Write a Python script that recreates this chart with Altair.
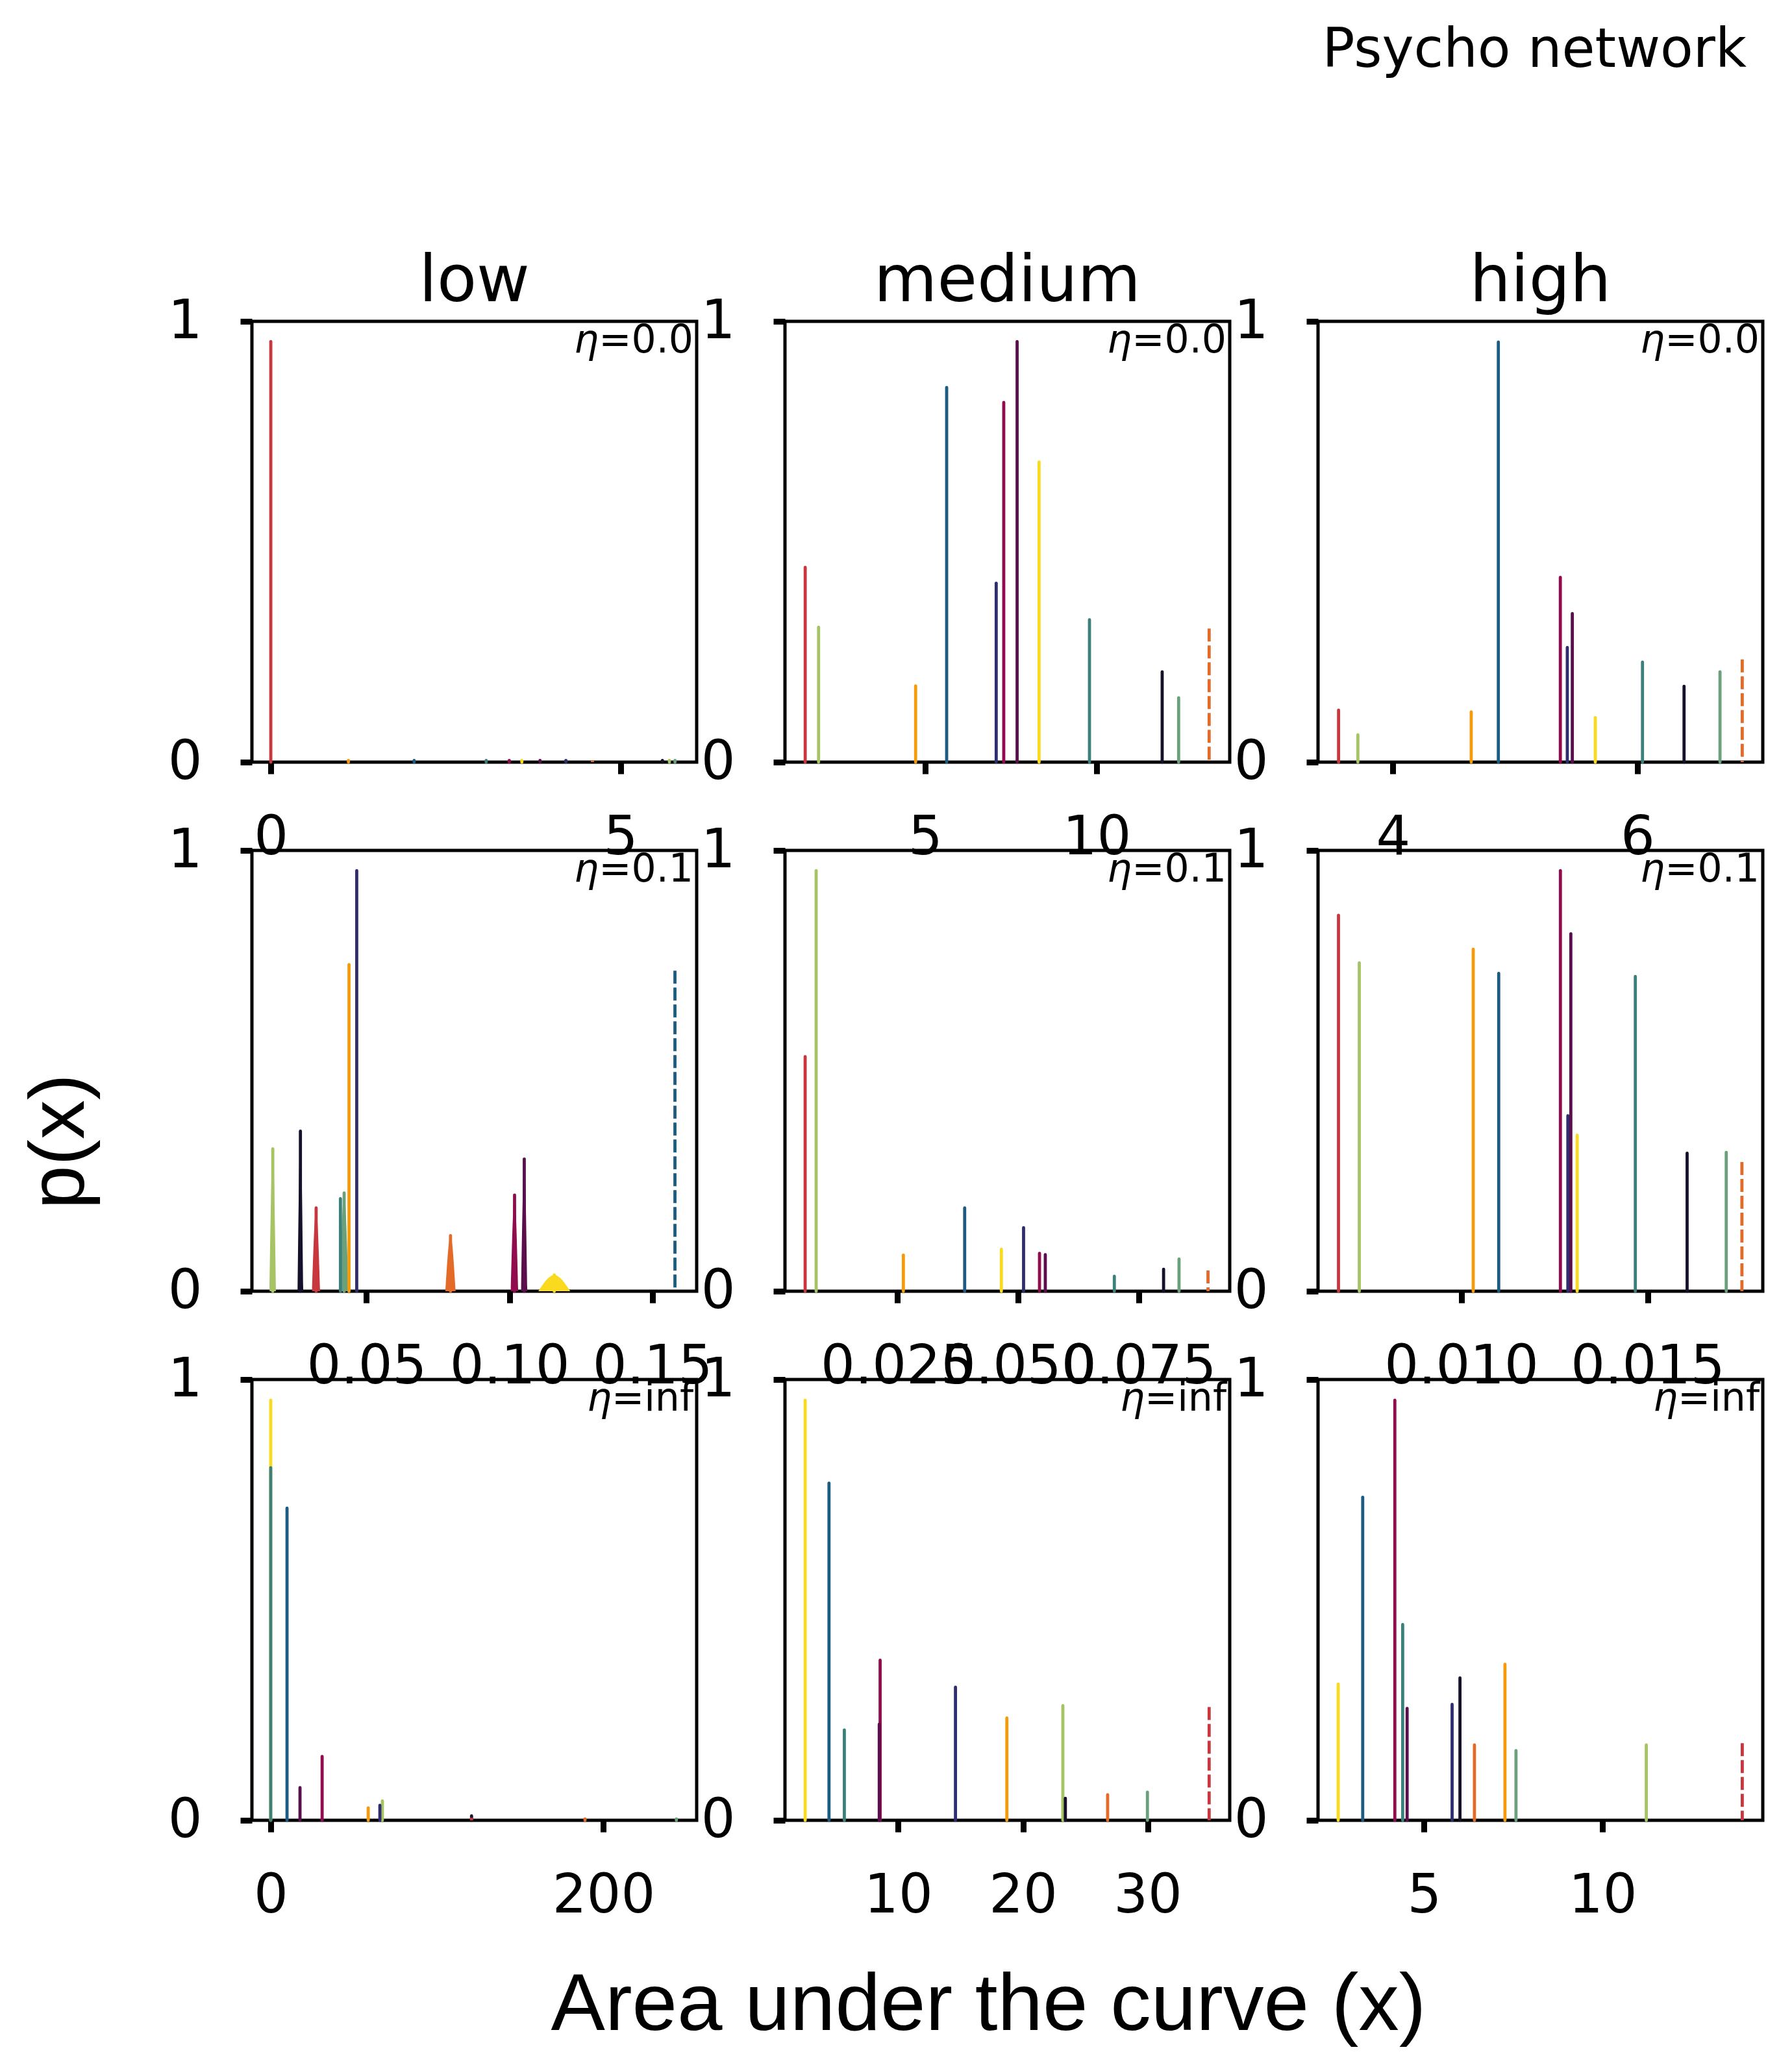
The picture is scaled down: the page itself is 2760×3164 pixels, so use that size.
import altair as alt
import pandas as pd

# ---------------- series (one colour per series, same order in every panel)
SERIES = ["red", "yellowgreen", "orange", "blue", "navy", "crimson",
          "purple", "yellow", "teal", "dark", "sage", "orangered"]
COLORS = ["#c8373e", "#a7c465", "#f59b0b", "#1c5b82", "#2e2d6f", "#900c4e",
          "#5a0e4c", "#f9da1f", "#3c807b", "#17102b", "#6aa17b", "#e46a27"]

COLUMNS = ["low", "medium", "high"]
ETAS = ["0.0", "0.1", "inf"]

# ---------------- peak positions (x) and peak heights (p), in SERIES order
low_00_x = [0.0, 5.70, 1.11, 2.05, 4.22, 3.41, 3.85, 3.59, 3.08, 5.60, 5.78, 4.60]
low_00_p = [0.954, 0.004, 0.004, 0.004, 0.004, 0.004, 0.004, 0.004, 0.004, 0.004, 0.004, 0.004]

med_00_x = [1.50, 1.89, 4.72, 5.625, 7.07, 7.29, 7.68, 8.32, 9.79, 11.91, 12.39, 13.28]
med_00_p = [0.442, 0.306, 0.173, 0.850, 0.406, 0.816, 0.954, 0.681, 0.323, 0.205, 0.146, 0.303]

high_00_x = [3.555, 3.713, 4.64, 4.862, 5.426, 5.369, 5.467, 5.655, 6.041, 6.381, 6.675, 6.857]
high_00_p = [0.118, 0.062, 0.114, 0.953, 0.260, 0.419, 0.337, 0.101, 0.227, 0.172, 0.205, 0.233]

low_01_x = [0.0324, 0.01724, 0.0439, 0.1579, 0.0466, 0.1018, 0.1052, 0.1157, 0.0409, 0.0269, 0.0422, 0.0794]
low_01_p = [0.189, 0.323, 0.741, 0.727, 0.954, 0.218, 0.300, 0.037, 0.210, 0.363, 0.223, 0.126]
low_01_w = [0.0014, 0.0011, 0.0, 0.0, 0.0, 0.0013, 0.0011, 0.0056, 0.0, 0.0010, 0.0015, 0.0018]

med_01_x = [0.00586, 0.00814, 0.0262, 0.0389, 0.0511, 0.0544, 0.0556, 0.0465, 0.0699, 0.0801, 0.0833, 0.0893]
med_01_p = [0.532, 0.954, 0.082, 0.189, 0.144, 0.086, 0.083, 0.095, 0.034, 0.050, 0.073, 0.047]

high_01_x = [0.006706, 0.007264, 0.010321, 0.011005, 0.01286, 0.01266, 0.01294, 0.01311, 0.01467, 0.01606, 0.01711, 0.01753]
high_01_p = [0.853, 0.745, 0.776, 0.721, 0.398, 0.954, 0.811, 0.354, 0.714, 0.313, 0.315, 0.293]

low_inf_x = [120.7, 67.1, 58.6, 9.8, 65.6, 30.9, 17.6, 0.0, 0.0, 120.7, 243.8, 188.9]
low_inf_p = [0.006, 0.044, 0.028, 0.708, 0.034, 0.145, 0.074, 0.953, 0.800, 0.010, 0.003, 0.003]

med_inf_x = [34.93, 23.20, 18.71, 4.45, 14.59, 8.55, 8.48, 2.54, 5.68, 23.40, 29.98, 26.79]
med_inf_p = [0.257, 0.260, 0.232, 0.765, 0.302, 0.363, 0.218, 0.953, 0.205, 0.050, 0.064, 0.058]

high_inf_x = [13.915, 11.226, 7.266, 3.280, 5.785, 4.180, 4.524, 2.593, 4.400, 6.005, 7.575, 6.411]
high_inf_p = [0.175, 0.171, 0.354, 0.733, 0.263, 0.953, 0.254, 0.309, 0.444, 0.323, 0.158, 0.171]

NO_WIDTH = [0.0] * 12

DATA = {
    ("low", "0.0"): (low_00_x, low_00_p, NO_WIDTH),
    ("medium", "0.0"): (med_00_x, med_00_p, NO_WIDTH),
    ("high", "0.0"): (high_00_x, high_00_p, NO_WIDTH),
    ("low", "0.1"): (low_01_x, low_01_p, low_01_w),
    ("medium", "0.1"): (med_01_x, med_01_p, NO_WIDTH),
    ("high", "0.1"): (high_01_x, high_01_p, NO_WIDTH),
    ("low", "inf"): (low_inf_x, low_inf_p, NO_WIDTH),
    ("medium", "inf"): (med_inf_x, med_inf_p, NO_WIDTH),
    ("high", "inf"): (high_inf_x, high_inf_p, NO_WIDTH),
}

DASHED = {
    ("low", "0.0"): "orangered", ("medium", "0.0"): "orangered", ("high", "0.0"): "orangered",
    ("low", "0.1"): "blue", ("medium", "0.1"): "orangered", ("high", "0.1"): "orangered",
    ("low", "inf"): "red", ("medium", "inf"): "red", ("high", "inf"): "red",
}

X_DOMAINS = {
    ("low", "0.0"): [-0.27, 6.09], ("medium", "0.0"): [0.91, 13.88], ("high", "0.0"): [3.387, 7.025],
    ("low", "0.1"): [0.00994, 0.1655], ("medium", "0.1"): [0.00168, 0.0938], ("high", "0.1"): [0.006157, 0.01809],
    ("low", "inf"): [-11.3, 256.0], ("medium", "inf"): [0.92, 36.58], ("high", "inf"): [2.028, 14.49],
}

X_TICKS = {
    ("low", "0.0"): [0, 5], ("medium", "0.0"): [5, 10], ("high", "0.0"): [4, 6],
    ("low", "0.1"): [0.05, 0.10, 0.15], ("medium", "0.1"): [0.025, 0.050, 0.075], ("high", "0.1"): [0.010, 0.015],
    ("low", "inf"): [0, 200], ("medium", "inf"): [10, 20, 30], ("high", "inf"): [5, 10],
}

X_FORMATS = {
    ("low", "0.0"): "d", ("medium", "0.0"): "d", ("high", "0.0"): "d",
    ("low", "0.1"): ".2f", ("medium", "0.1"): ".3f", ("high", "0.1"): ".3f",
    ("low", "inf"): "d", ("medium", "inf"): "d", ("high", "inf"): "d",
}

# ---------------- layout
W, H = 685, 679
SPACING = 136
ETA_TEXT_OFFSET = {"0.0": 146, "0.1": 146, "inf": 126}
LINE_W = 4.8

color_enc = alt.Color("series:N", scale=alt.Scale(domain=SERIES, range=COLORS), legend=None)


def text_layer(txt, x, y, size, align="right", style="normal", font="DejaVu Sans"):
    return alt.Chart(pd.DataFrame({"t": [txt]})).mark_text(
        align=align, baseline="alphabetic", fontSize=size, fontStyle=style,
        font=font, fontWeight="normal", color="black"
    ).encode(text="t:N", x=alt.value(x), y=alt.value(y))


def make_panel(row_i, col_i):
    col, eta = COLUMNS[col_i], ETAS[row_i]
    key = (col, eta)
    xs, ps, ws = DATA[key]
    dashed = DASHED[key]
    df = pd.DataFrame({"series": SERIES, "x": xs, "p": ps})

    x_axis = dict(values=X_TICKS[key], format=X_FORMATS[key], title=None)
    if row_i == 2 and col_i == 1:
        x_axis.update(title="Area under the curve (x)", titleX=313, titleY=322,
                      titleAlign="center", titleBaseline="alphabetic", titleAngle=0)
    y_axis = dict(values=[0, 1], format="d", title=None)
    if row_i == 1 and col_i == 0:
        y_axis.update(title="p(x)", titleX=-296, titleY=448, titleAngle=270,
                      titleAlign="center", titleBaseline="middle", titleFontSize=121)

    x_enc = alt.X("x:Q", scale=alt.Scale(domain=X_DOMAINS[key], nice=False, zero=False),
                  axis=alt.Axis(**x_axis))
    y_enc = alt.Y("p:Q", scale=alt.Scale(domain=[0, 1], nice=False, zero=False),
                  axis=alt.Axis(**y_axis), stack=None)

    layers = []
    area_rows = []
    for s, x, p, w in zip(SERIES, xs, ps, ws):
        if w > 0:
            area_rows += [{"series": s, "x": x - w, "p": 0.0},
                          {"series": s, "x": x, "p": p},
                          {"series": s, "x": x + w, "p": 0.0}]
    if area_rows:
        layers.append(alt.Chart(pd.DataFrame(area_rows)).mark_area(interpolate="monotone")
                      .encode(x=x_enc, y=y_enc, color=color_enc))

    base = alt.Chart(df)
    layers.append(base.transform_filter(alt.datum.series != dashed)
                  .mark_rule(strokeWidth=LINE_W, strokeCap="round")
                  .encode(x=x_enc, y=y_enc, y2=alt.datum(0), color=color_enc))
    layers.append(base.transform_filter(alt.datum.series == dashed)
                  .mark_rule(strokeWidth=LINE_W, strokeDash=[20, 6])
                  .encode(x=x_enc, y=y_enc, y2=alt.datum(0), color=color_enc))

    # eta annotation (top right inside the frame)
    off = ETA_TEXT_OFFSET[eta]
    layers.append(text_layer("\u03b7", W - 5 - off, 48, 60, style="italic"))
    layers.append(text_layer("=" + eta, W - 5, 48, 60))

    if row_i == 0:
        layers.append(text_layer(col, W / 2, -31, 100, align="center"))
    if row_i == 0 and col_i == 2:
        layers.append(text_layer("Psycho network", 660, -392, 83))

    return alt.layer(*layers).properties(width=W, height=H)


panels = [make_panel(r, c) for r in range(3) for c in range(3)]

chart = alt.concat(*panels, columns=3, spacing=SPACING, bounds="flush").resolve_scale(
    x="independent", y="independent"
).properties(
    padding={"left": 20, "top": 26, "right": 10, "bottom": 10}
).configure_view(
    stroke="black", strokeWidth=5
).configure_axis(
    domain=False, grid=False, ticks=True, tickColor="black", tickSize=18, tickWidth=9,
    labelColor="black", labelFont="DejaVu Sans", labelFontSize=83, labelLimit=0,
    labelFlush=False, labelOverlap=False,
    titleColor="black", titleFont="Liberation Sans", titleFontSize=125, titleFontWeight="normal"
).configure_axisX(
    labelPadding=57
).configure_axisY(
    labelPadding=59
)

chart.save("out.html", embed_options={"renderer": "svg", "actions": False})
